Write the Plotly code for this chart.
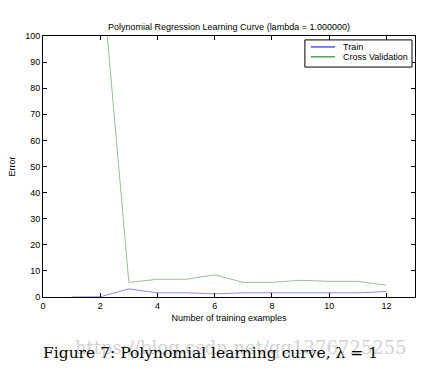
import plotly.graph_objects as go

examples = [1, 2, 3, 4, 5, 6, 7, 8, 9, 10, 11, 12]
train_error = [0.0, 0.1, 3.1, 1.6, 1.6, 1.2, 1.6, 1.6, 1.6, 1.6, 1.6, 2.1]
cv_error = [140.0, 131.0, 5.6, 6.8, 6.8, 8.5, 5.6, 5.6, 6.4, 6.0, 6.0, 4.5]

x_ticks = [0, 2, 4, 6, 8, 10, 12]
y_ticks = [0, 10, 20, 30, 40, 50, 60, 70, 80, 90, 100]

legend_names = ["Train", "Cross Validation"]
legend_colors = ["#0000ff", "#007000"]

font = "Liberation Sans, Arial, sans-serif"

fig = go.Figure()
fig.add_trace(go.Scatter(x=examples, y=train_error, mode="lines", name="Train",
                         line=dict(color="#8c8cf5", width=1), showlegend=False))
fig.add_trace(go.Scatter(x=examples, y=cv_error, mode="lines", name="Cross Validation",
                         line=dict(color="#98c098", width=1), showlegend=False))

axis_common = dict(showgrid=False, zeroline=False, showline=True, linecolor="black",
                   linewidth=1, mirror="ticks", ticks="inside", ticklen=4,
                   tickcolor="black", tickfont=dict(family=font, size=9, color="black"))

fig.update_layout(
    width=424, height=371,
    margin=dict(l=43, r=9, t=36, b=74),
    paper_bgcolor="white", plot_bgcolor="white",
    title=dict(text="Polynomial Regression Learning Curve (lambda = 1.000000)",
               font=dict(family=font, size=9, color="black"),
               x=0.5, xanchor="center", xref="paper", y=1 - 27 / 371, yanchor="middle"),
    xaxis=dict(range=[0, 13], tickvals=x_ticks,
               title=dict(text="Number of training examples", standoff=4,
                          font=dict(family=font, size=9, color="black")),
               **axis_common),
    yaxis=dict(range=[0, 100], tickvals=y_ticks,
               title=dict(text="Error", standoff=8,
                          font=dict(family=font, size=9, color="black")),
               **axis_common),
    showlegend=False,
)

# manual MATLAB-style legend box
fig.add_shape(type="rect", xref="paper", yref="paper", x0=0.704, x1=0.992, y0=0.881, y1=0.985,
              line=dict(color="black", width=1), fillcolor="white", layer="above")
legend_y = [0.958, 0.920]
for name, color, ly in zip(legend_names, legend_colors, legend_y):
    fig.add_shape(type="line", xref="paper", yref="paper", x0=0.720, x1=0.785, y0=ly, y1=ly,
                  line=dict(color=color, width=1), layer="above")
    fig.add_annotation(text=name, xref="paper", yref="paper", x=0.801, y=ly,
                       xanchor="left", yanchor="middle", showarrow=False,
                       font=dict(family=font, size=9, color="black"))

fig.add_annotation(text="https://blog.csdn.net/qq1376725255",
                   x=(241 - 43) / 372, xref="paper", xanchor="center",
                   y=-(347 - 297) / 261, yref="paper", yanchor="middle", showarrow=False,
                   font=dict(family="DejaVu Serif, serif", size=18, color="rgba(190,190,190,0.7)"))
fig.add_annotation(text="Figure 7: Polynomial learning curve, λ = 1",
                   x=(210 - 43) / 372, xref="paper", xanchor="center",
                   y=-(353 - 297) / 261, yref="paper", yanchor="middle", showarrow=False,
                   font=dict(family="DejaVu Serif, serif", size=15.5, color="black"))

fig.write_html("out.html", config={"displayModeBar": False},
               post_script="document.body.style.margin='0px';")
